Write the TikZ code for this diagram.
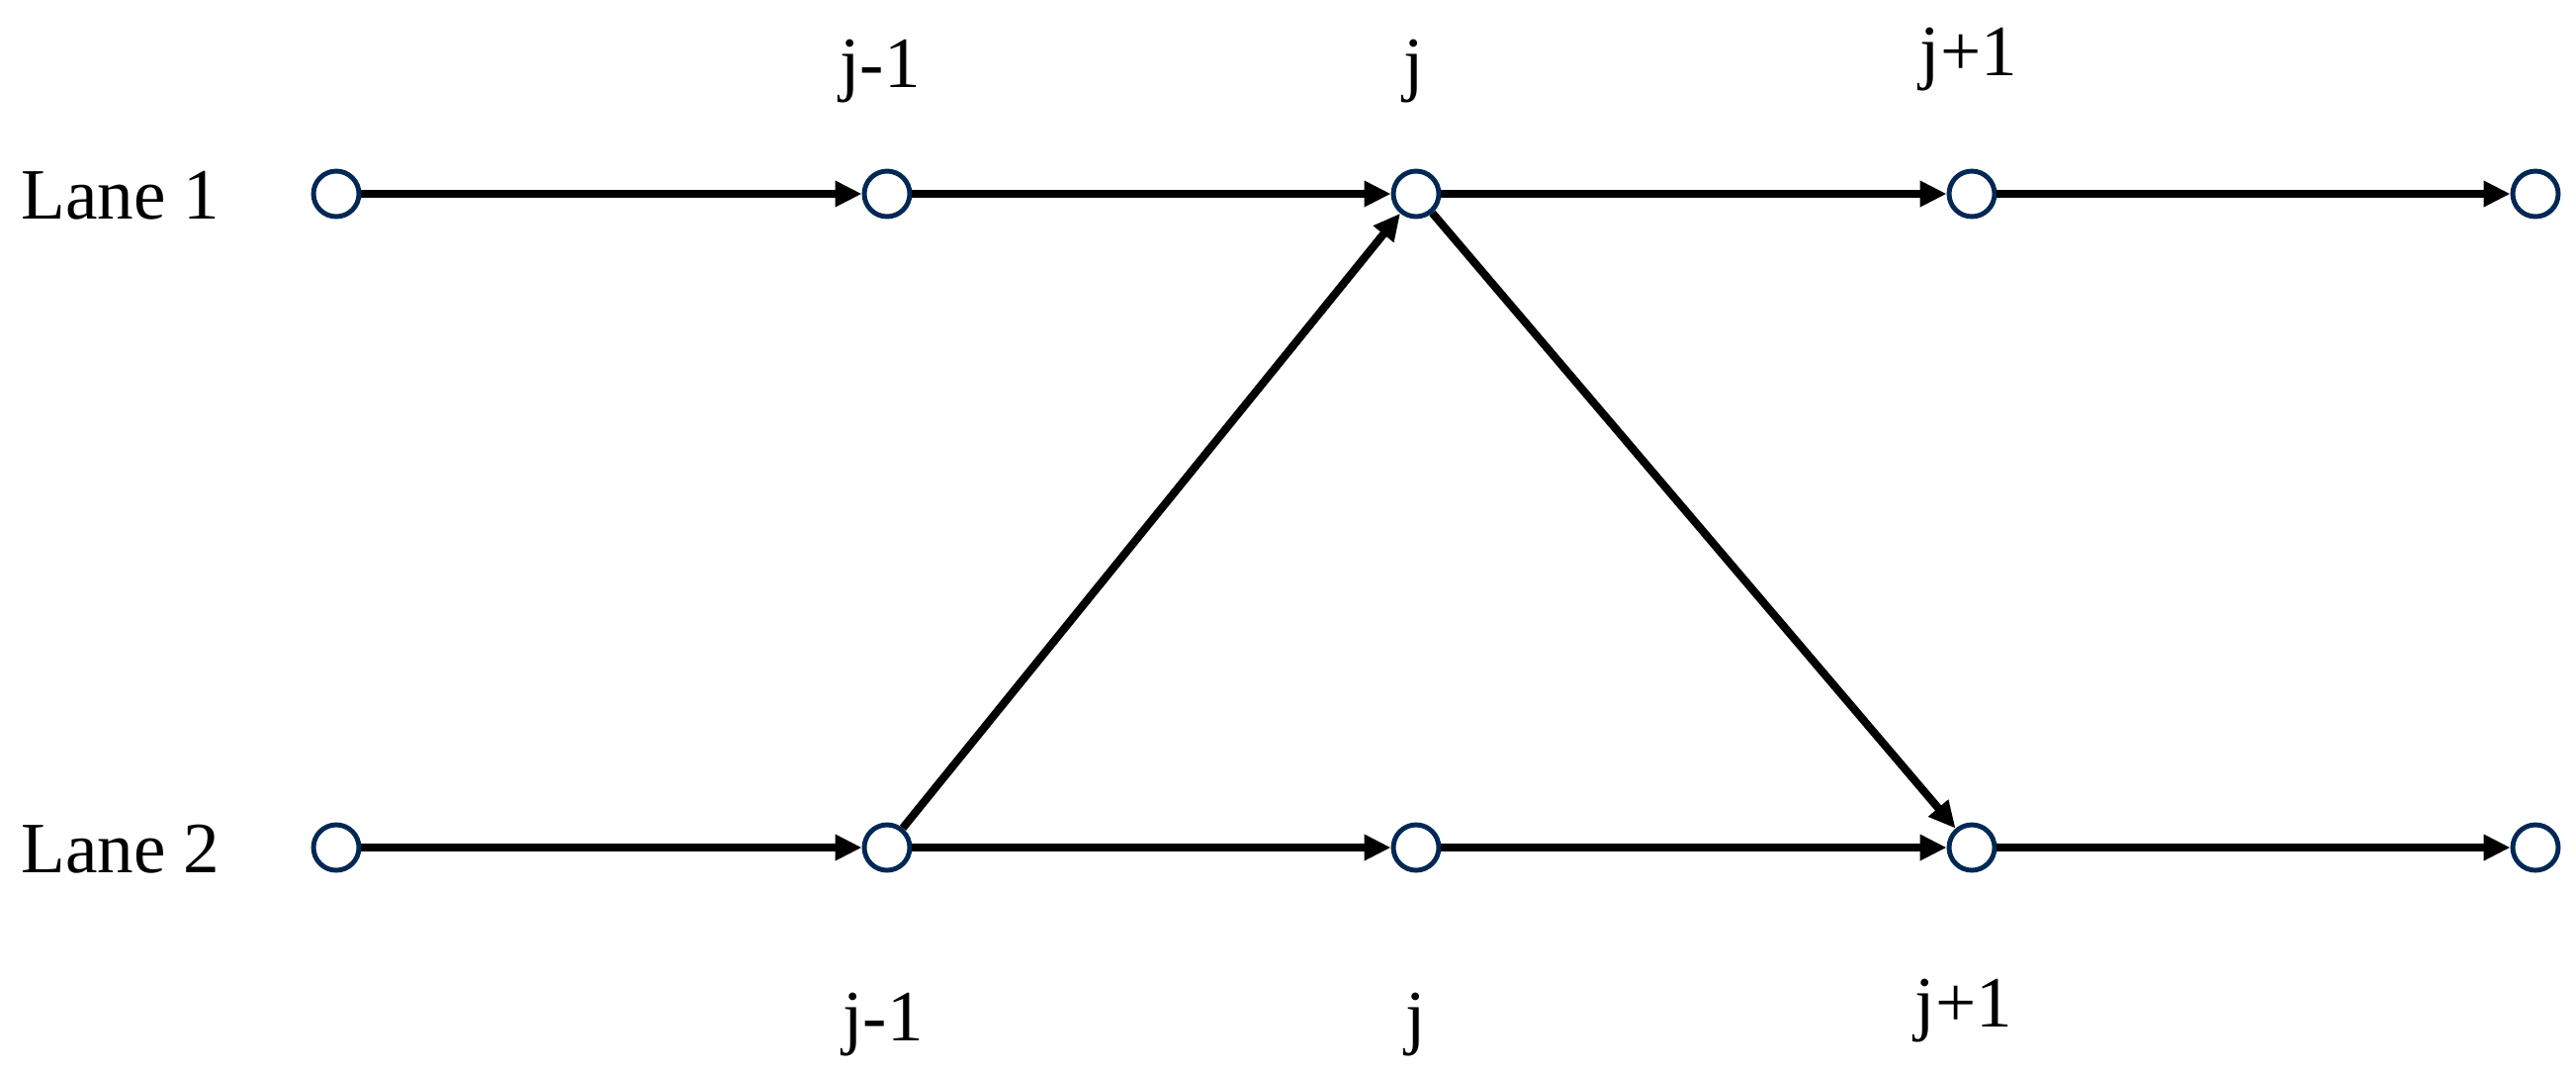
\documentclass[tikz,border=0pt]{standalone}
\usepackage{fontspec}
\setmainfont{Liberation Serif}
\usetikzlibrary{arrows.meta}
\definecolor{nodeblue}{RGB}{0,40,85}

\begin{document}
\begin{tikzpicture}[x=0.1mm,y=-0.1mm,
	dot/.style={circle,draw=nodeblue,line width=1.4pt,fill=white,inner sep=0pt,minimum size=4.6mm},
	link/.style={-{Triangle[length=2.7mm,width=2.5mm]},line width=2.3pt},
	lbl/.style={anchor=base,font=\fontsize{20.8}{25}\selectfont}]


\useasboundingbox (0,0) rectangle (2605,1083);


% lane 1
\node[dot] (L1a) at (340,196) {};
\node[dot] (L1b) at (897,196) {};
\node[dot] (L1c) at (1432,196) {};
\node[dot] (L1d) at (1994,196) {};
\node[dot] (L1e) at (2564,196) {};

% lane 2
\node[dot] (L2a) at (340,857) {};
\node[dot] (L2b) at (897,857) {};
\node[dot] (L2c) at (1432,857) {};
\node[dot] (L2d) at (1994,857) {};
\node[dot] (L2e) at (2564,857) {};


\node[lbl,anchor=center] (lane1) at (122,198) {Lane 1};
\node[lbl,anchor=center] (lane2) at (122,859) {Lane 2};

\node[lbl] (t1) at (890,88) {j-1};
\node[lbl] (t2) at (1430,88) {j};
\node[lbl] (t3) at (1991,76) {j+1};

\node[lbl] (b1) at (893,1052) {j-1};
\node[lbl] (b2) at (1432,1052) {j};
\node[lbl] (b3) at (1986,1038) {j+1};


\draw[link] (L1a)--(L1b);
\draw[link] (L1b)--(L1c);
\draw[link] (L1c)--(L1d);
\draw[link] (L1d)--(L1e);

\draw[link] (L2a)--(L2b);
\draw[link] (L2b)--(L2c);
\draw[link] (L2c)--(L2d);
\draw[link] (L2d)--(L2e);

\draw[link] (L2b)--(L1c);% change to lane 1
\draw[link] (L1c)--(L2d);% change to lane 2


\end{tikzpicture}
\end{document}
